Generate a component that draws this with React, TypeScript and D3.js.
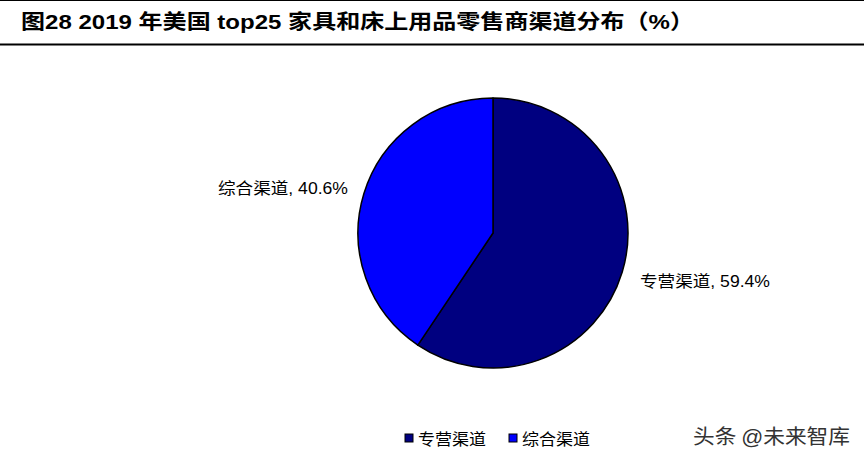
import React, { useEffect, useRef } from "react";
import * as d3 from "d3";

const categories = ["专营渠道", "综合渠道"];
const values = [59.4, 40.6];
const colors = ["#000080", "#0000FF"];
const titleText = "图28 2019 年美国 top25 家具和床上用品零售商渠道分布（%）";

const W = 864;
const H = 455;
const CJK = "'Noto Sans CJK SC', sans-serif";
const LATIN = "'Liberation Sans', Arial, sans-serif";

export default function App() {
  const ref = useRef<SVGSVGElement | null>(null);

  useEffect(() => {
    const svg = d3.select(ref.current);
    svg.selectAll("*").remove();

    svg.append("rect").attr("width", W).attr("height", H).attr("fill", "#fff");

    // title rules
    svg.append("line").attr("x1", 0).attr("x2", W).attr("y1", 0.5).attr("y2", 0.5)
      .attr("stroke", "#000").attr("stroke-width", 1);
    svg.append("line").attr("x1", 0).attr("x2", W).attr("y1", 44.5).attr("y2", 44.5)
      .attr("stroke", "#000").attr("stroke-width", 2);

    // title with mixed fonts
    const title = svg.append("text").attr("x", 21).attr("y", 29)
      .attr("font-size", 20.5).attr("font-weight", "bold").attr("fill", "#000")
      .attr("textLength", 673).attr("lengthAdjust", "spacingAndGlyphs");
    const parts = titleText.match(/[\x00-\x7F]+|[^\x00-\x7F]+/g) || [];
    parts.forEach((p) => {
      const ascii = /^[\x00-\x7F]+$/.test(p);
      title.append("tspan")
        .attr("font-family", ascii ? LATIN : CJK)
        .text(p);
    });

    // pie
    const cx = 493, cy = 233, r = 135;
    const pie = d3.pie<number>().sort(null).startAngle(0).endAngle(2 * Math.PI)(values);
    const arc = d3.arc<d3.PieArcDatum<number>>().innerRadius(0).outerRadius(r);
    const g = svg.append("g").attr("transform", `translate(${cx},${cy})`);
    g.selectAll("path").data(pie).enter().append("path")
      .attr("d", arc as any)
      .attr("fill", (_d, i) => colors[i])
      .attr("stroke", "#000").attr("stroke-width", 1.5).attr("stroke-linejoin", "round");

    // data labels
    const labelPos = [
      { x: 640, y: 287 },
      { x: 218, y: 194 },
    ];
    categories.forEach((c, i) => {
      const t = svg.append("text").attr("x", labelPos[i].x).attr("y", labelPos[i].y)
        .attr("font-size", 16).attr("fill", "#000")
        .attr("textLength", 130).attr("lengthAdjust", "spacingAndGlyphs");
      t.append("tspan").attr("font-family", CJK).text(c);
      t.append("tspan").attr("font-family", LATIN).text(`, ${values[i].toFixed(1)}%`);
    });

    // legend
    const legX = [405, 509];
    categories.forEach((c, i) => {
      svg.append("rect").attr("x", legX[i]).attr("y", 434).attr("width", 8).attr("height", 8)
        .attr("fill", colors[i]).attr("stroke", "#000").attr("stroke-width", 1);
      svg.append("text").attr("x", legX[i] + 13).attr("y", 445)
        .attr("font-family", CJK).attr("font-size", 16).attr("fill", "#000")
        .attr("textLength", 68).attr("lengthAdjust", "spacingAndGlyphs").text(c);
    });

    // watermark
    const wm = svg.append("text").attr("x", 693).attr("y", 444)
      .attr("font-size", 20).attr("fill", "#333")
      .attr("stroke", "#fff").attr("stroke-width", 0.6).attr("paint-order", "stroke")
      .attr("textLength", 157).attr("lengthAdjust", "spacingAndGlyphs");
    wm.append("tspan").attr("font-family", CJK).text("头条 ");
    wm.append("tspan").attr("font-family", LATIN).text("@");
    wm.append("tspan").attr("font-family", CJK).text("未来智库");
  }, []);

  return (
    <svg ref={ref} width={W} height={H} style={{ display: "block", position: "absolute", left: 0, top: 0 }} />
  );
}
